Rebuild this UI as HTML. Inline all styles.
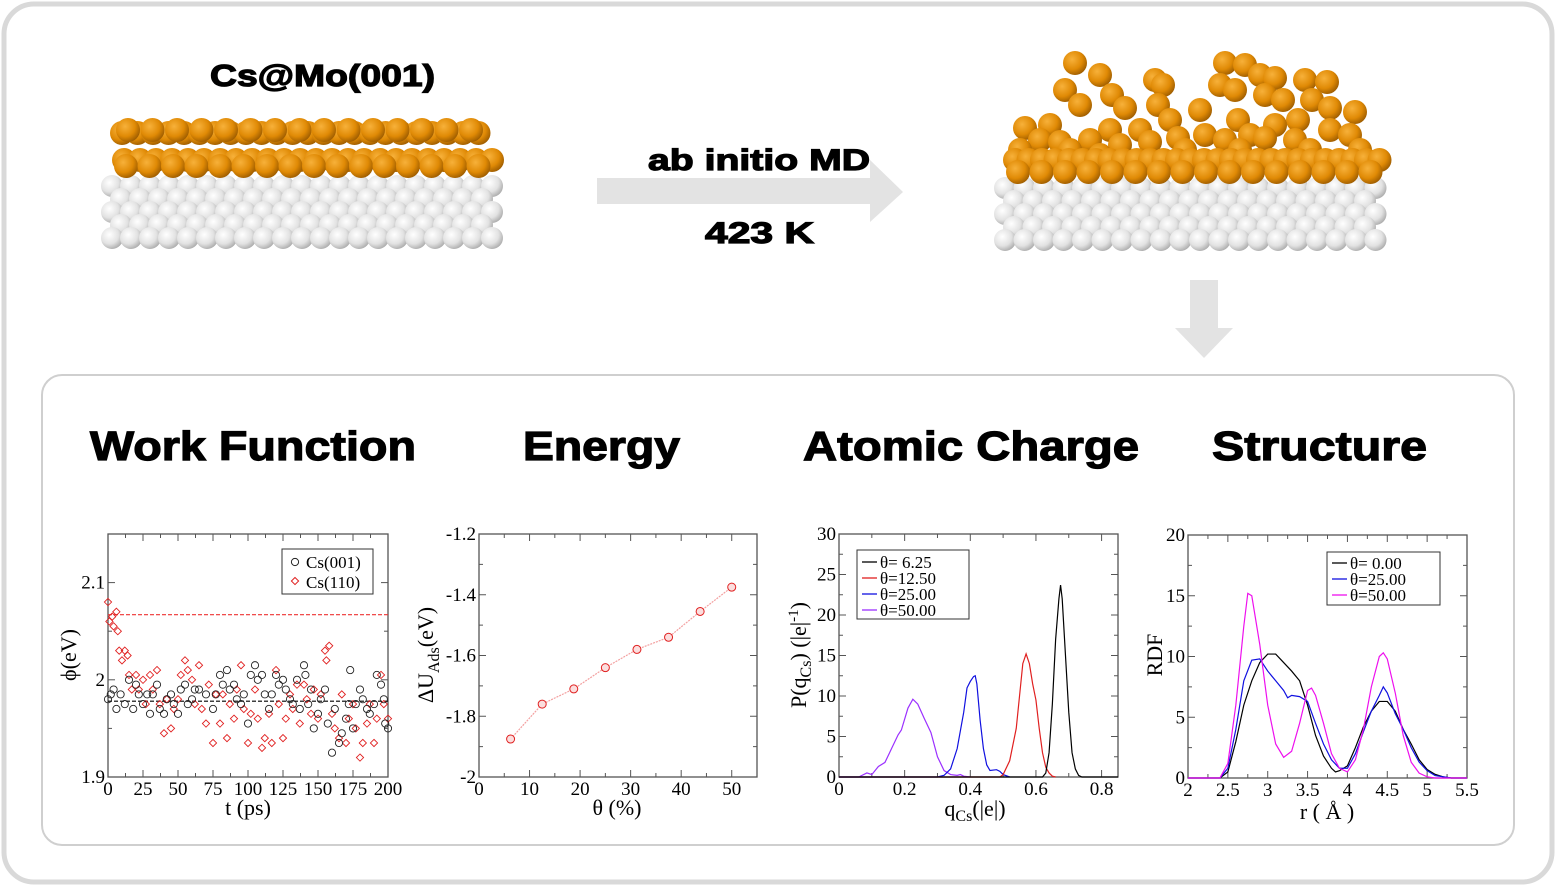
<!DOCTYPE html>
<html><head><meta charset="utf-8">
<style>
html,body{margin:0;padding:0;background:#fff;}
svg{display:block;font-family:"Liberation Serif",serif;}
.t{font-family:"Liberation Sans",sans-serif;font-weight:bold;stroke:#000;stroke-width:1.2;}
</style></head>
<body>
<svg id="root" width="1556" height="886" viewBox="0 0 1556 886" xmlns="http://www.w3.org/2000/svg">
<defs>
<radialGradient id="gO" cx="0.38" cy="0.35" r="0.7"><stop offset="0" stop-color="#f7b13a"/><stop offset="0.6" stop-color="#e08a05"/><stop offset="1" stop-color="#9a5a00"/></radialGradient>
<radialGradient id="gW" cx="0.38" cy="0.35" r="0.7"><stop offset="0" stop-color="#ffffff"/><stop offset="0.6" stop-color="#e2e2e2"/><stop offset="1" stop-color="#a9a9a9"/></radialGradient>
</defs>
<rect x="4" y="4" width="1548" height="878" rx="30" fill="#fff" stroke="#d9d9d9" stroke-width="5"/>
<rect x="42" y="375" width="1472" height="470" rx="20" fill="#fff" stroke="#cfcfcf" stroke-width="2"/>
<g id="slabL"></g>
<g id="slabR"></g>
<text x="210" y="86" textLength="225" lengthAdjust="spacingAndGlyphs" class="t" font-size="31">Cs@Mo(001)</text>
<path d="M597,178 L870,178 L870,160 L903,192 L870,222 L870,204 L597,204 Z" fill="#e3e3e3"/>
<text x="648" y="170" textLength="222" lengthAdjust="spacingAndGlyphs" class="t" font-size="30">ab initio MD</text>
<text x="705" y="243" textLength="109" lengthAdjust="spacingAndGlyphs" class="t" font-size="30">423 K</text>
<path d="M1190,280 L1218,280 L1218,328 L1233,328 L1204,358 L1175,328 L1190,328 Z" fill="#e3e3e3"/>
<text x="90" y="460" textLength="326" lengthAdjust="spacingAndGlyphs" class="t" font-size="41">Work Function</text>
<text x="523" y="460" textLength="157" lengthAdjust="spacingAndGlyphs" class="t" font-size="41">Energy</text>
<text x="803" y="460" textLength="336" lengthAdjust="spacingAndGlyphs" class="t" font-size="41">Atomic Charge</text>
<text x="1212" y="460" textLength="215" lengthAdjust="spacingAndGlyphs" class="t" font-size="41">Structure</text>
<g id="c1"></g>
<g id="c2"></g>
<g id="c3"></g>
<g id="c4"></g>
</svg>
<script>
// ---- Work function data ----
const wfT001 = [0,2,4,6,9,12,15,18,20,22,25,28,30,32,35,37,40,42,45,47,50,52,55,57,60,62,65,70,75,77,80,82,85,87,90,92,95,97,100,102,105,107,110,112,115,117,120,122,125,127,130,132,135,137,140,141,143,145,147,150,152,155,157,160,162,165,167,170,172,173,175,177,180,182,185,187,190,192,195,197,200,198];
const wf001 = [1.98,1.985,1.99,1.97,1.985,1.975,2.0,1.97,1.995,1.985,1.975,1.985,1.965,1.985,1.995,1.97,1.965,1.98,1.985,1.975,1.965,1.99,1.995,1.975,1.98,1.99,1.99,1.985,1.97,1.985,2.005,1.995,2.01,1.99,1.995,1.98,1.975,1.985,1.955,2.005,2.015,2.0,2.005,1.985,1.97,1.985,2.005,1.995,2.0,1.99,1.98,1.975,2.0,1.97,2.015,2.005,1.975,1.99,1.95,1.965,1.98,1.99,1.955,1.925,1.97,1.935,1.945,1.96,1.975,2.01,1.95,1.975,1.99,1.98,1.97,1.965,1.975,2.005,1.995,1.98,1.95,1.955];
const wfT110 = [0,1,3,4,6,7,8,10,12,14,15,17,20,22,25,27,30,32,35,37,40,42,45,47,50,52,55,57,60,62,65,67,70,72,75,77,80,82,85,87,90,92,95,97,100,102,105,107,110,112,115,117,120,122,125,127,130,132,135,137,140,142,145,147,150,152,155,156,158,160,162,165,167,170,172,175,177,180,182,185,187,190,192,195,197,200];
const wf110 = [2.08,2.06,2.065,2.055,2.07,2.05,2.03,2.02,2.03,2.025,2.005,1.99,2.005,1.99,2.0,1.975,2.005,1.99,2.01,1.975,1.945,1.98,1.95,1.97,1.98,2.005,2.02,2.01,2.0,1.975,2.015,1.97,1.955,1.995,1.935,1.985,1.955,1.985,1.94,1.975,1.96,1.99,2.015,1.97,1.935,1.965,1.99,1.96,1.93,1.94,1.965,1.935,2.01,1.975,1.94,1.96,1.985,1.97,1.995,1.955,1.995,1.98,1.965,1.99,1.96,1.985,2.03,2.02,2.035,1.965,1.95,1.94,1.985,1.935,1.96,1.975,1.95,1.92,1.935,1.955,1.975,1.935,1.96,2.005,1.975,1.96];
const wfRef001 = 1.978, wfRef110 = 2.067;
const wfXTicks = [0,25,50,75,100,125,150,175,200];
const wfYTicks = [1.9,2.0,2.1];
const wfYTickLabels = ["1.9","2","2.1"];
// ---- Energy data ----
const enTheta = [6.25,12.5,18.75,25,31.25,37.5,43.75,50];
const enU = [-1.875,-1.76,-1.71,-1.64,-1.58,-1.54,-1.455,-1.375];
const enXTicks = [0,10,20,30,40,50];
const enYTicks = [-2,-1.8,-1.6,-1.4,-1.2];
// ---- Charge data ----
const qBlackX = [0,0.62,0.63,0.64,0.65,0.66,0.67,0.675,0.68,0.69,0.70,0.71,0.72,0.73,0.74,0.85];
const qBlackY = [0,0,0.5,3,9,17,22,23.7,22,15,8,3,1,0.2,0,0];
const qRedX = [0,0.49,0.5,0.52,0.54,0.55,0.56,0.57,0.58,0.59,0.60,0.61,0.62,0.63,0.64,0.65,0.66];
const qRedY = [0,0,0.3,2,6,10,14,15.2,14,11.5,9.5,6,3,1.2,0.5,0.1,0];
const qBlueX = [0,0.3,0.32,0.34,0.36,0.38,0.39,0.40,0.41,0.415,0.42,0.43,0.44,0.45,0.46,0.48,0.49,0.50,0.52];
const qBlueY = [0,0,0.2,1,3.5,8,11,11.8,12.4,12.5,11.5,7,3.5,1.5,0.8,0.9,0.7,0.3,0];
const qPurX = [0,0.06,0.07,0.085,0.1,0.12,0.14,0.16,0.18,0.19,0.21,0.225,0.24,0.26,0.28,0.30,0.32,0.34,0.36,0.37,0.38,0.4];
const qPurY = [0,0,0.2,0.5,0.3,1.3,1.8,3.5,5.2,5.8,8.5,9.6,9,7.2,5.5,2.5,0.8,0.3,0.2,0.3,0.1,0];
const qXTicks = [0,0.2,0.4,0.6,0.8];
const qYTicks = [0,5,10,15,20,25,30];
// ---- RDF data ----
const rBlackX = [2,2.4,2.5,2.6,2.7,2.8,2.9,3.0,3.1,3.2,3.3,3.4,3.5,3.6,3.7,3.8,3.85,3.9,4.0,4.1,4.2,4.3,4.4,4.5,4.6,4.7,4.8,4.9,5.0,5.1,5.2,5.3,5.5];
const rBlackY = [0,0,0.5,3,6,8,9.5,10.2,10.2,9.5,8.8,8,6,3.5,1.8,0.8,0.5,0.6,1,2.5,4.2,5.5,6.3,6.3,5.5,4,2.8,1.5,0.7,0.3,0.1,0,0];
const rBlueX = [2,2.4,2.5,2.6,2.7,2.8,2.9,3.0,3.1,3.2,3.25,3.3,3.4,3.5,3.6,3.7,3.8,3.9,4.0,4.1,4.2,4.3,4.4,4.45,4.5,4.6,4.7,4.8,4.9,5.0,5.1,5.3,5.5];
const rBlueY = [0,0,0.8,4,8,9.7,9.8,8.8,8,7.2,6.6,6.8,6.7,6.3,4.5,2.8,1.5,0.8,0.8,2,3.8,5.5,6.8,7.5,7,5.3,4,2.5,1.3,0.6,0.2,0,0];
const rMagX = [2,2.4,2.5,2.6,2.7,2.75,2.8,2.9,3.0,3.1,3.2,3.3,3.4,3.5,3.55,3.6,3.7,3.8,3.9,4.0,4.1,4.2,4.3,4.4,4.45,4.5,4.6,4.7,4.8,4.9,5.0,5.1,5.5];
const rMagY = [0,0,1.2,6,12.5,15.2,15,11,6,2.8,1.7,2.2,4.5,7.2,7.4,6.8,4.5,2,0.8,0.5,1.5,4,7.5,10,10.3,9.8,7,3.5,1.3,0.4,0.1,0,0];
const rXTicks = [2,2.5,3,3.5,4,4.5,5,5.5];
const rYTicks = [0,5,10,15,20];

const NS = "http://www.w3.org/2000/svg";
function mk(parent, tag, attrs, text){
  const e = document.createElementNS(NS, tag);
  for (const k in attrs) e.setAttribute(k, attrs[k]);
  if (text !== undefined) e.textContent = text;
  parent.appendChild(e); return e;
}
function lin(d0,d1,r0,r1){ return v => r0 + (v-d0)/(d1-d0)*(r1-r0); }

function frame(g, box, xs, ys, xTicks, yTicks, xLab, yLab, minorX, minorY){
  const r = mk(g,'rect',{x:box.x0,y:box.y0,width:box.x1-box.x0,height:box.y1-box.y0,fill:'none',stroke:'#555','stroke-width':1.3});
  
  
  xTicks.forEach((t,i)=>{
    const x = xs(t);
    mk(g,'line',{x1:x,x2:x,y1:box.y1,y2:box.y1-7,stroke:'#555'});
    mk(g,'line',{x1:x,x2:x,y1:box.y0,y2:box.y0+7,stroke:'#555'});
    const tx = mk(g,'text',{x:x,y:box.y1+18,'text-anchor':'middle','font-size':19},xLab[i]);
    
    
  });
  yTicks.forEach((t,i)=>{
    const y = ys(t);
    mk(g,'line',{x1:box.x0,x2:box.x0+7,y1:y,y2:y,stroke:'#555'});
    mk(g,'line',{x1:box.x1,x2:box.x1-7,y1:y,y2:y,stroke:'#555'});
    const tx = mk(g,'text',{x:box.x0-3,y:y+6,'text-anchor':'end','font-size':19},yLab[i]);
    
    
  });
  minorX.forEach(t=>{const x=xs(t);mk(g,'line',{x1:x,x2:x,y1:box.y1,y2:box.y1-4,stroke:'#555'});mk(g,'line',{x1:x,x2:x,y1:box.y0,y2:box.y0+4,stroke:'#555'});});
  minorY.forEach(t=>{const y=ys(t);mk(g,'line',{x1:box.x0,x2:box.x0+4,y1:y,y2:y,stroke:'#555'});mk(g,'line',{x1:box.x1,x2:box.x1-4,y1:y,y2:y,stroke:'#555'});});
}
function poly(g, xs, ys, X, Y, color, name){
  const p = mk(g,'polyline',{points:X.map((x,i)=>xs(x)+','+ys(Y[i])).join(' '),fill:'none',stroke:color,'stroke-width':1.2});
  
  
}

// Chart 1
(function(){
  const g = document.getElementById('c1');
  const box={x0:108,x1:388,y0:534,y1:777};
  const xs=lin(0,200,box.x0,box.x1), ys=lin(1.9,2.15,box.y1,box.y0);
  frame(g,box,xs,ys,wfXTicks,wfYTicks,wfXTicks.map(String),wfYTickLabels,[12.5,37.5,62.5,87.5,112.5,137.5,162.5,187.5],[1.95,2.05]);
  const l1 = mk(g,'line',{x1:box.x0,x2:box.x1,y1:ys(wfRef110),y2:ys(wfRef110),stroke:'#e33','stroke-dasharray':'4,2','stroke-width':1.2});
  
  
  const l2 = mk(g,'line',{x1:box.x0,x2:box.x1,y1:ys(wfRef001),y2:ys(wfRef001),stroke:'#000','stroke-dasharray':'4,2','stroke-width':1.2});
  
  
  wfT110.forEach((t,i)=>{
    const x=xs(t), y=ys(wf110[i]);
    const d=mk(g,'path',{d:`M${x},${y-3.6}L${x+3.6},${y}L${x},${y+3.6}L${x-3.6},${y}Z`,fill:'none',stroke:'#e02020','stroke-width':0.9});
    
    
  });
  wfT001.forEach((t,i)=>{
    const c=mk(g,'circle',{cx:xs(t),cy:ys(wf001[i]),r:3.6,fill:'none',stroke:'#222','stroke-width':0.9});
    
    
  });
  const lg=mk(g,'g',{});
  
  
  mk(lg,'rect',{x:282,y:549,width:91,height:45,fill:'#fff',stroke:'#333'});
  mk(lg,'circle',{cx:295,cy:562,r:3.6,fill:'none',stroke:'#222'});
  mk(lg,'text',{x:306,y:568,'font-size':17},'Cs(001)');
  mk(lg,'path',{d:'M295,577.5L298.6,581L295,584.6L291.4,581Z',fill:'none',stroke:'#e02020'});
  mk(lg,'text',{x:306,y:588,'font-size':17},'Cs(110)');
  mk(g,'text',{x:248,y:815,'text-anchor':'middle','font-size':22},'t (ps)');
  mk(g,'text',{x:0,y:0,'text-anchor':'middle','font-size':22,transform:'translate(76,655) rotate(-90)'},'ϕ(eV)');
})();

// Chart 2
(function(){
  const g=document.getElementById('c2');
  const box={x0:479,x1:757,y0:534,y1:777};
  const xs=lin(0,55,box.x0,box.x1), ys=lin(-2,-1.2,box.y1,box.y0);
  frame(g,box,xs,ys,enXTicks,enYTicks,enXTicks.map(String),enYTicks.map(v=>v.toFixed(1).replace('-2.0','-2')),[5,15,25,35,45],[-1.9,-1.7,-1.5,-1.3]);
  poly(g,xs,ys,enTheta,enU,'#f3a0a0','energy-line');
  g.lastChild.setAttribute('stroke-dasharray','2,1');
  enTheta.forEach((t,i)=>{
    const c=mk(g,'circle',{cx:xs(t),cy:ys(enU[i]),r:4,fill:'#fbdede',stroke:'#e02020','stroke-width':1});
    
    
  });
  mk(g,'text',{x:617,y:815,'text-anchor':'middle','font-size':22},'θ (%)');
  const yl=mk(g,'text',{x:0,y:0,'text-anchor':'middle','font-size':22,transform:'translate(433,655) rotate(-90)'});
  yl.innerHTML='ΔU<tspan font-size="16" dy="6">Ads</tspan><tspan dy="-6">(eV)</tspan>';
})();

// Chart 3
(function(){
  const g=document.getElementById('c3');
  const box={x0:839,x1:1118,y0:534,y1:777};
  const xs=lin(0,0.85,box.x0,box.x1), ys=lin(0,30,box.y1,box.y0);
  frame(g,box,xs,ys,qXTicks,qYTicks,['0','0.2','0.4','0.6','0.8'],qYTicks.map(String),[0.1,0.3,0.5,0.7],[2.5,7.5,12.5,17.5,22.5,27.5]);
  poly(g,xs,ys,qPurX,qPurY,'#9b30ff','theta-50-curve');
  poly(g,xs,ys,qBlueX,qBlueY,'#1010e0','theta-25-curve');
  poly(g,xs,ys,qRedX,qRedY,'#e02020','theta-12-curve');
  poly(g,xs,ys,qBlackX,qBlackY,'#000','theta-6-curve');
  const lg=mk(g,'g',{});
  
  
  mk(lg,'rect',{x:857,y:550,width:112,height:69,fill:'#fff',stroke:'#333'});
  [['θ= 6.25','#000'],['θ=12.50','#e02020'],['θ=25.00','#1010e0'],['θ=50.00','#9b30ff']].forEach((e,i)=>{
    mk(lg,'line',{x1:862,x2:877,y1:562+i*16,y2:562+i*16,stroke:e[1],'stroke-width':1.3});
    mk(lg,'text',{x:880,y:568+i*16,'font-size':17},e[0]);
  });
  const xl=mk(g,'text',{x:975,y:816,'text-anchor':'middle','font-size':22});
  xl.innerHTML='q<tspan font-size="16" dy="5">Cs</tspan><tspan dy="-5">(|e|)</tspan>';
  const yl=mk(g,'text',{x:0,y:0,'text-anchor':'middle','font-size':22,transform:'translate(806,655) rotate(-90)'});
  yl.innerHTML='P(q<tspan font-size="16" dy="5">Cs</tspan><tspan dy="-5">) (|e|</tspan><tspan font-size="15" dy="-8">-1</tspan><tspan dy="8">)</tspan>';
})();

// Chart 4
(function(){
  const g=document.getElementById('c4');
  const box={x0:1188,x1:1467,y0:535,y1:778};
  const xs=lin(2,5.5,box.x0,box.x1), ys=lin(0,20,box.y1,box.y0);
  frame(g,box,xs,ys,rXTicks,rYTicks,rXTicks.map(String),rYTicks.map(String),[2.25,2.75,3.25,3.75,4.25,4.75,5.25],[2.5,7.5,12.5,17.5]);
  poly(g,xs,ys,rBlackX,rBlackY,'#000','theta-0-rdf');
  poly(g,xs,ys,rBlueX,rBlueY,'#1010e0','theta-25-rdf');
  poly(g,xs,ys,rMagX,rMagY,'#ee10ee','theta-50-rdf');
  const lg=mk(g,'g',{});
  
  
  mk(lg,'rect',{x:1327,y:552,width:113,height:53,fill:'#fff',stroke:'#333'});
  [['θ= 0.00','#000'],['θ=25.00','#1010e0'],['θ=50.00','#ee10ee']].forEach((e,i)=>{
    mk(lg,'line',{x1:1332,x2:1347,y1:563+i*16,y2:563+i*16,stroke:e[1],'stroke-width':1.3});
    mk(lg,'text',{x:1350,y:569+i*16,'font-size':17},e[0]);
  });
  mk(g,'text',{x:1327,y:819,'text-anchor':'middle','font-size':22},'r ( Å )');
  mk(g,'text',{x:0,y:0,'text-anchor':'middle','font-size':22,transform:'translate(1162,655) rotate(-90)'},'RDF');
})();

// Molecular slabs (decorative)
function sphere(g,x,y,r,fill){ mk(g,'circle',{cx:x,cy:y,r:r,fill:fill}); }
(function(){
  const g=document.getElementById('slabL');
  for(let row=0;row<5;row++){
    for(let i=0;i<21;i++){
      const x=112+i*19+(row%2)*9, y=186+row*13;
      if(x<500) sphere(g,x,y,11,'url(#gW)');
    }
  }
  for(let i=0;i<24;i++){ sphere(g,122+i*15.5,133,12,'url(#gO)'); }
  for(let i=0;i<24;i++){ sphere(g,124+i*16,160,12,'url(#gO)'); }
  for(let i=0;i<16;i++){ sphere(g,126+i*23.5,166,12,'url(#gO)'); }
  for(let i=0;i<15;i++){ sphere(g,128+i*24.5,130,12,'url(#gO)'); }
})();
(function(){
  const g=document.getElementById('slabR');
  for(let row=0;row<5;row++){
    for(let i=0;i<20;i++){
      const x=1005+i*19.5+(row%2)*9, y=188+row*13;
      if(x<1378) sphere(g,x,y,11,'url(#gW)');
    }
  }
  const up=[[1075,63],[1100,75],[1065,90],[1080,105],[1112,95],[1125,108],[1155,80],[1163,85],[1158,105],[1170,120],[1225,63],[1245,65],[1220,85],[1235,90],[1260,75],[1275,78],[1265,95],[1283,100],[1305,80],[1327,82],[1312,100],[1330,108],[1298,120],[1275,125],[1110,130],[1140,130],[1200,110],[1238,120],[1250,135],[1330,130],[1355,112],[1050,125],[1025,128],[1040,140],[1060,142],[1090,140],[1120,145],[1150,142],[1178,138],[1205,135],[1225,140],[1265,138],[1295,140],[1350,135],[1020,150],[1070,150],[1100,155],[1185,150],[1240,150],[1310,150],[1360,150]];
  up.forEach(p=>sphere(g,p[0],p[1],12,'url(#gO)'));
  for(let i=0;i<28;i++){ sphere(g,1015+i*13.5,160,12,'url(#gO)'); }
  for(let i=0;i<16;i++){ sphere(g,1018+i*23.5,172,12,'url(#gO)'); }
})();
</script>
</body></html>
